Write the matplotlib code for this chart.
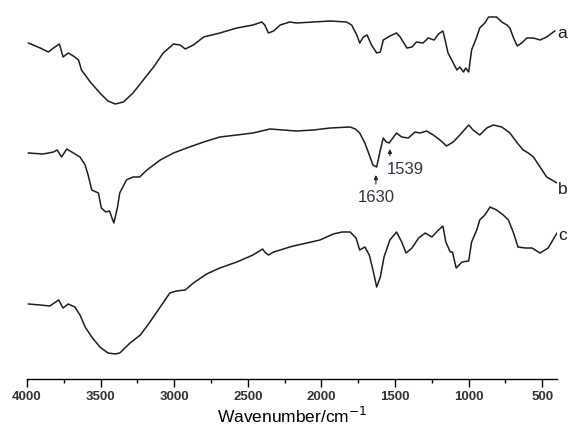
import matplotlib
matplotlib.use("Agg")
import matplotlib.pyplot as plt

# FTIR spectra, wavenumber (cm-1) vs transmittance (arbitrary units, stacked)
wn_a = [3990, 3910, 3855, 3820, 3780, 3755, 3720, 3685, 3650, 3630, 3570, 3505,
        3450, 3400, 3345, 3280, 3210, 3140, 3075, 3005, 2960, 2925, 2870, 2800,
        2690, 2575, 2465, 2405, 2385, 2360, 2325, 2280, 2215, 2170, 2055, 1940,
        1830, 1795, 1760, 1740, 1715, 1690, 1660, 1625, 1600, 1580, 1535, 1490,
        1465, 1420, 1385, 1355, 1310, 1275, 1235, 1205, 1175, 1160, 1140, 1115,
        1080, 1060, 1035, 1020, 1000, 980, 945, 925, 890, 865, 810, 775, 740,
        720, 695, 670, 640, 605, 560, 515, 470, 415]
t_a = [336, 331, 327, 331, 335, 322, 326, 323, 319, 309, 297, 286,
       278, 275, 277, 286, 299, 312, 326, 335, 334, 330, 334, 342,
       346, 351, 354, 357, 354, 346, 348, 354, 357, 356, 357, 358,
       357, 354, 344, 336, 342, 344, 334, 326, 327, 339, 343, 346,
       342, 331, 332, 337, 336, 341, 339, 345, 348, 339, 326, 319,
       309, 312, 307, 311, 307, 329, 342, 351, 356, 362, 362, 357, 354,
       351, 341, 333, 336, 341, 341, 339, 342, 348]

wn_b = [3990, 3890, 3820, 3795, 3765, 3730, 3685, 3640, 3605, 3585, 3560, 3515,
        3495, 3465, 3440, 3410, 3385, 3370, 3325, 3280, 3235, 3185, 3095, 3005,
        2915, 2800, 2690, 2575, 2465, 2350, 2260, 2170, 2055, 1940, 1805, 1770,
        1740, 1705, 1670, 1650, 1625, 1600, 1580, 1560, 1540, 1510, 1490, 1455,
        1410, 1365, 1330, 1285, 1240, 1195, 1150, 1105, 1060, 1000, 970, 925,
        877, 833, 775, 720, 675, 630, 595, 560, 515, 470, 435, 400]
t_b = [226, 225, 227, 229, 222, 230, 226, 222, 214, 204, 189, 186,
       171, 167, 168, 156, 172, 186, 199, 202, 202, 209, 219, 226,
       231, 237, 242, 244, 246, 250, 249, 248, 249, 251, 252, 250,
       246, 236, 222, 214, 212, 229, 241, 237, 236, 242, 246, 242,
       241, 247, 246, 248, 244, 239, 233, 237, 244, 254, 249, 244,
       251, 254, 252, 246, 237, 229, 226, 222, 212, 202, 199, 196]

wn_c = [3990, 3910, 3845, 3785, 3755, 3720, 3675, 3640, 3605, 3560, 3505, 3450,
        3400, 3370, 3300, 3230, 3165, 3095, 3030, 2985, 2925, 2870, 2780, 2690,
        2575, 2465, 2400, 2385, 2360, 2325, 2280, 2215, 2190, 2100, 2010, 1920,
        1860, 1805, 1765, 1740, 1705, 1675, 1650, 1625, 1600, 1575, 1535, 1490,
        1455, 1425, 1385, 1340, 1295, 1250, 1205, 1175, 1155, 1125, 1110, 1085,
        1045, 1000, 980, 945, 925, 890, 855, 810, 765, 730, 695, 665, 615, 570,
        515, 460, 400]
t_c = [75, 74, 73, 79, 71, 75, 72, 64, 52, 42, 32, 26,
       25, 26, 36, 44, 57, 72, 86, 88, 89, 96, 105, 111,
       117, 124, 130, 127, 124, 127, 129, 132, 133, 136, 139, 145,
       147, 147, 141, 129, 132, 124, 109, 92, 102, 122, 139, 147,
       137, 126, 131, 141, 146, 142, 149, 153, 137, 127, 127, 111,
       117, 118, 137, 149, 159, 164, 172, 169, 164, 159, 146, 132, 131, 131,
       126, 131, 146]

series = [(wn_a, t_a, "a", 346), (wn_b, t_b, "b", 189), (wn_c, t_c, "c", 144)]

# peak annotations on spectrum b: (label, wavenumber, arrow tip, arrow tail, text x, text y, align)
peaks = [("1630", 1630, 204, 195, 1625, 182, "center"),
         ("1539", 1535, 230, 223, 1555, 209, "left")]

plt.rcParams["font.family"] = ["Liberation Sans", "DejaVu Sans"]

fig = plt.figure(figsize=(5.68, 4.32), dpi=100)
ax = fig.add_axes([27 / 568, 53 / 432, 530 / 568, 379 / 432])

for wn, t, name, ylab in series:
    ax.plot(wn, t, color="#1e1e1e", lw=1.1)
    ax.text(362, ylab, name, fontsize=12.5, color="#1e1e1e",
            ha="center", va="center", clip_on=False)

for label, wn, tip, tail, tx, ty, ha in peaks:
    ax.annotate("", xy=(wn, tip), xytext=(wn, tail),
                arrowprops=dict(arrowstyle="-|>", lw=0.8, color="#222222",
                                mutation_scale=6, shrinkA=0, shrinkB=0))
    ax.text(tx, ty, label, fontsize=12, color="#333344", ha=ha, va="center")

ax.set_xlim(4000, 400)
ax.set_ylim(0, 379)
ax.set_xticks([4000, 3500, 3000, 2500, 2000, 1500, 1000, 500])
ax.set_xticks([3750, 3250, 2750, 2250, 1750, 1250, 750], minor=True)
ax.tick_params(axis="x", which="major", direction="out", length=6, width=1,
               labelsize=9.5, labelcolor="#333333", pad=3)
ax.tick_params(axis="x", which="minor", direction="out", length=3, width=1)
for lbl in ax.get_xticklabels():
    lbl.set_fontweight("bold")
ax.set_yticks([])
for side in ["left", "right", "top"]:
    ax.spines[side].set_visible(False)
ax.spines["bottom"].set_linewidth(1)
ax.set_xlabel("Wavenumber/cm$^{-1}$", fontsize=12.5, labelpad=2)

fig.savefig("out.png", dpi=100)
